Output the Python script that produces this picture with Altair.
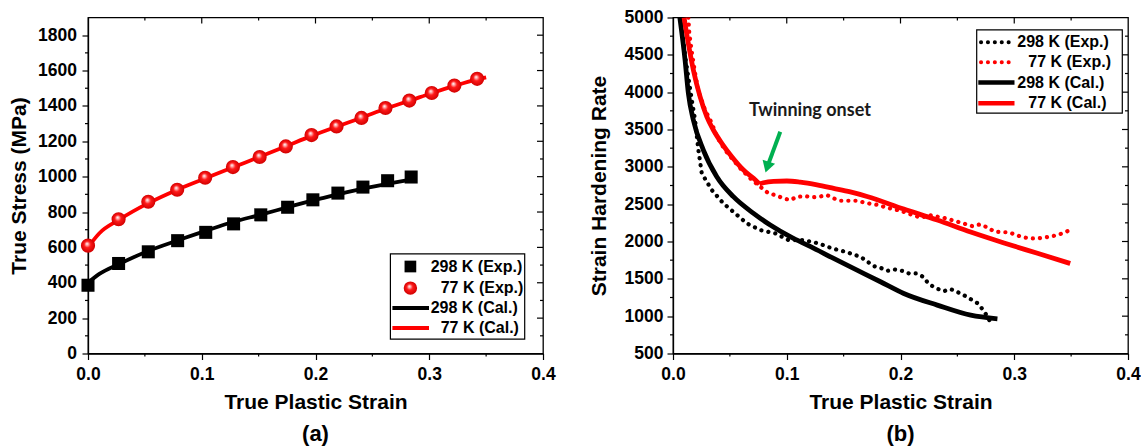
import altair as alt
import pandas as pd

FONT = "Liberation Sans"
W, H = 455, 336

# ---------------- Panel (a): true stress vs true plastic strain ----------------
a_exp298_strain = [0.0, 0.0269, 0.053, 0.0788, 0.1035, 0.128, 0.1519, 0.1755, 0.1977, 0.2197, 0.2417, 0.2634, 0.2841]
a_exp298_stress = [386, 509, 575, 638, 685, 733, 784, 827, 869, 907, 941, 977, 998]
a_exp77_strain = [0.0, 0.0269, 0.053, 0.0784, 0.103, 0.1274, 0.1509, 0.1739, 0.1965, 0.2185, 0.2404, 0.2615, 0.2825, 0.3022, 0.3221, 0.3421]
a_exp77_stress = [610, 759, 858, 926, 994, 1054, 1111, 1171, 1235, 1284, 1332, 1388, 1430, 1473, 1515, 1553]
a_cal298_strain = [0.0, 0.01, 0.027, 0.053, 0.079, 0.104, 0.128, 0.152, 0.176, 0.198, 0.22, 0.242, 0.264, 0.285]
a_cal298_stress = [400, 450, 505, 580, 640, 695, 745, 785, 828, 866, 900, 932, 960, 985]
a_cal77_strain = [0.0, 0.01, 0.027, 0.053, 0.078, 0.103, 0.127, 0.151, 0.174, 0.197, 0.219, 0.24, 0.262, 0.283, 0.302, 0.322, 0.342, 0.35]
a_cal77_stress = [600, 680, 755, 850, 925, 990, 1052, 1112, 1172, 1232, 1284, 1332, 1385, 1430, 1472, 1513, 1550, 1562]

# ---------------- Panel (b): strain hardening rate ----------------
b_exp298_strain = [0.0065, 0.0110, 0.0165, 0.0194, 0.0223, 0.0253, 0.0341, 0.0443, 0.0546, 0.0649, 0.0767, 0.0899, 0.1016,
                   0.1148, 0.128, 0.1398, 0.1515, 0.1648, 0.1765, 0.1824, 0.1883, 0.1947, 0.2015, 0.2074, 0.2138, 0.2200,
                   0.2250, 0.2317, 0.2382, 0.2441, 0.2508, 0.2573, 0.2631, 0.2681, 0.2728, 0.2769, 0.2802]
b_exp298_rate = [5000, 4450, 3895, 3627, 3225, 2913, 2689, 2511, 2377, 2243, 2153, 2109, 2019,
                 2019, 1975, 1908, 1863, 1796, 1670, 1648, 1607, 1626, 1607, 1572, 1572, 1527,
                 1429, 1371, 1335, 1362, 1318, 1268, 1215, 1170, 1080, 983, 879]
b_exp77_strain = [0.0135, 0.0143, 0.0167, 0.0194, 0.0224, 0.0282, 0.0341, 0.0385, 0.0458, 0.0517, 0.0605, 0.0679, 0.0767,
                  0.084, 0.0899, 0.0972, 0.1031, 0.109, 0.1163, 0.1222, 0.1281, 0.1354, 0.1412, 0.1471, 0.1545, 0.1618,
                  0.1677, 0.1751, 0.181, 0.1868, 0.2, 0.2123, 0.2185, 0.225, 0.2376, 0.2505, 0.2631, 0.2699, 0.2764,
                  0.2828, 0.2954, 0.3019, 0.3081, 0.3145, 0.3210, 0.3274, 0.3339, 0.3404, 0.3468]
b_exp77_rate = [5000, 4790, 4521, 4253, 4007, 3761, 3583, 3404, 3225, 3114, 2957, 2846, 2733,
                2645, 2622, 2578, 2555, 2599, 2608, 2591, 2599, 2622, 2578, 2546, 2546, 2546,
                2524, 2501, 2488, 2457, 2412, 2345, 2318, 2354, 2318, 2264, 2206, 2229, 2189,
                2130, 2122, 2086, 2055, 2041, 2041, 2055, 2072, 2099, 2139]
b_cal298_strain = [0.0060, 0.0106, 0.0135, 0.0179, 0.0267, 0.0385, 0.0531, 0.0708, 0.0855, 0.103, 0.121, 0.1412,
                   0.1618, 0.1824, 0.2029, 0.2323, 0.2617, 0.2852]
b_cal298_rate = [5000, 4432, 3985, 3627, 3225, 2868, 2600, 2377, 2220, 2064, 1930, 1773,
                 1617, 1461, 1304, 1148, 1013, 965]
b_cal77_strain = [0.0097, 0.0135, 0.0179, 0.0238, 0.0297, 0.0355, 0.0429, 0.0517, 0.062, 0.0708, 0.0760]
b_cal77_rate = [5000, 4650, 4298, 3940, 3672, 3493, 3315, 3135, 2957, 2846, 2769]
b_cal77b_strain = [0.0760, 0.0796, 0.0884, 0.1001, 0.1119, 0.1266, 0.1412, 0.1559, 0.1706, 0.2029, 0.2323, 0.2617, 0.291, 0.3204, 0.3492]
b_cal77b_rate = [2769, 2787, 2806, 2810, 2794, 2758, 2712, 2664, 2603, 2434, 2287, 2126, 1980, 1842, 1706]

legend_labels = ["298 K (Exp.)", "77 K (Exp.)", "298 K (Cal.)", "77 K (Cal.)"]
annot_text = "Twinning onset"
annot_pos = [0.1204, 3680]
arrow_start = [0.0943, 3470]
arrow_head = [0.0828, 2996]

x_major = [0.0, 0.1, 0.2, 0.3, 0.4]
x_minor = [0.05, 0.15, 0.25, 0.35]
ya_major = list(range(0, 1801, 200))
ya_minor = list(range(100, 1800, 200))
yb_major = list(range(500, 5001, 500))
yb_minor = list(range(750, 5000, 500))

RED = "#ff0000"
BLACK = "#000000"
GREEN = "#00b050"

red_ball = {
    "gradient": "radial", "x1": 0.42, "y1": 0.36, "r1": 0.0, "x2": 0.5, "y2": 0.5, "r2": 0.5,
    "stops": [
        {"offset": 0.0, "color": "#ffffff"},
        {"offset": 0.18, "color": "#ffb0b0"},
        {"offset": 0.45, "color": "#ff1a1a"},
        {"offset": 1.0, "color": "#d00000"},
    ],
}

AX = dict(labelOverlap=False, labelFont=FONT, labelFontSize=17.5, labelFontWeight="bold", labelColor=BLACK,
          titleFont=FONT, titleFontSize=21, titleFontWeight="bold", titleColor=BLACK, grid=False,
          domainColor=BLACK, domainWidth=1.3, tickColor=BLACK, tickWidth=1.2, tickSize=6)


def X(domain, axis=None):
    kw = {"scale": alt.Scale(domain=domain, nice=False, zero=False)}
    if axis is not None:
        kw["axis"] = axis
    return alt.X("x:Q", **kw)


def Y(domain, axis=None):
    kw = {"scale": alt.Scale(domain=domain, nice=False, zero=False)}
    if axis is not None:
        kw["axis"] = axis
    return alt.Y("y:Q", **kw)


def df(xs, ys):
    return pd.DataFrame({"x": xs, "y": ys})


def frame_ticks(xd, yd, xa, ya, xmaj_in, xmin_in, ymaj_in, ymin_in):
    layers = []
    layers.append(alt.Chart(pd.DataFrame({"x": xmin_in})).mark_rule(color=BLACK, strokeWidth=1.2)
                  .encode(x=X(xd, xa), y=alt.value(H), y2=alt.value(H + 3)))
    layers.append(alt.Chart(pd.DataFrame({"x": xmaj_in})).mark_rule(color=BLACK, strokeWidth=1.2)
                  .encode(x=X(xd, xa), y=alt.value(0), y2=alt.value(6)))
    layers.append(alt.Chart(pd.DataFrame({"x": xmin_in})).mark_rule(color=BLACK, strokeWidth=1.2)
                  .encode(x=X(xd, xa), y=alt.value(0), y2=alt.value(3)))
    layers.append(alt.Chart(pd.DataFrame({"y": ymin_in})).mark_rule(color=BLACK, strokeWidth=1.2)
                  .encode(y=Y(yd, ya), x=alt.value(0), x2=alt.value(-3)))
    layers.append(alt.Chart(pd.DataFrame({"y": ymaj_in})).mark_rule(color=BLACK, strokeWidth=1.2)
                  .encode(y=Y(yd, ya), x=alt.value(W), x2=alt.value(W - 6)))
    layers.append(alt.Chart(pd.DataFrame({"y": ymin_in})).mark_rule(color=BLACK, strokeWidth=1.2)
                  .encode(y=Y(yd, ya), x=alt.value(W), x2=alt.value(W - 3)))
    return layers


one = pd.DataFrame({"k": [0]})
TXT = dict(font=FONT, fontSize=16, fontWeight="bold", color=BLACK, align="left", baseline="middle")

# ---------------- build panel (a) ----------------
xd = [0, 0.4]
yda = [0, 1900]
xa_axis = alt.Axis(title="True Plastic Strain", values=x_major, format=".1f", labelFlush=False,
                   labelPadding=6, titlePadding=8, **AX)
ya_axis = alt.Axis(title="True Stress (MPa)", values=ya_major, format="d", labelPadding=5.5, titlePadding=8, **AX)

a_layers = [
    alt.Chart(df(a_cal298_strain, a_cal298_stress)).mark_line(color=BLACK, strokeWidth=3.8, interpolate="monotone")
    .encode(x=X(xd, xa_axis), y=Y(yda, ya_axis)),
    alt.Chart(df(a_cal77_strain, a_cal77_stress)).mark_line(color=RED, strokeWidth=3.8, interpolate="monotone")
    .encode(x=X(xd, xa_axis), y=Y(yda, ya_axis)),
    alt.Chart(df(a_exp298_strain, a_exp298_stress)).mark_point(shape="square", filled=True, color=BLACK, size=170, opacity=1)
    .encode(x=X(xd, xa_axis), y=Y(yda, ya_axis)),
    alt.Chart(df(a_exp77_strain, a_exp77_stress)).mark_point(shape="circle", filled=True, fill=red_ball, size=200, opacity=1, strokeWidth=0)
    .encode(x=X(xd, xa_axis), y=Y(yda, ya_axis)),
]
a_layers += frame_ticks(xd, yda, xa_axis, ya_axis, [0.1, 0.2, 0.3], x_minor, ya_major[1:], ya_minor)

lx0, lx1, ly0, ly1 = 302.4, 436.7, 236.3, 321.6
rows_a = [249, 270.6, 290.6, 310.6]
a_layers += [
    alt.Chart(one).mark_rect(fill="white", stroke=BLACK, strokeWidth=1.2)
    .encode(x=alt.value(lx0), x2=alt.value(lx1), y=alt.value(ly0), y2=alt.value(ly1)),
    alt.Chart(one).mark_point(shape="square", filled=True, color=BLACK, size=137, opacity=1)
    .encode(x=alt.value(322.4), y=alt.value(rows_a[0])),
    alt.Chart(one).mark_point(shape="circle", filled=True, fill=red_ball, size=180, opacity=1, strokeWidth=0)
    .encode(x=alt.value(322.4), y=alt.value(rows_a[1])),
    alt.Chart(one).mark_rule(color=BLACK, strokeWidth=4)
    .encode(x=alt.value(304.4), x2=alt.value(341), y=alt.value(rows_a[2])),
    alt.Chart(one).mark_rule(color=RED, strokeWidth=4)
    .encode(x=alt.value(304.4), x2=alt.value(341), y=alt.value(rows_a[3])),
]
for lbl, ry, tx in zip(legend_labels, rows_a, [342.7, 352.7, 342.7, 352.7]):
    a_layers.append(alt.Chart(one).mark_text(**TXT).encode(x=alt.value(tx), y=alt.value(ry), text=alt.value(lbl)))

panel_a = alt.layer(*a_layers).properties(
    width=W, height=H,
    title=alt.Title("(a)", orient="bottom", anchor="middle", frame="group", offset=12,
                    font=FONT, fontSize=22, fontWeight="bold", color=BLACK),
)

# ---------------- build panel (b) ----------------
ydb = [500, 5000]
xb_axis = alt.Axis(title="True Plastic Strain", values=x_major, format=".1f", labelFlush=False,
                   labelPadding=6, titlePadding=8, **AX)
yb_axis = alt.Axis(title="Strain Hardening Rate", values=yb_major, format="d", labelPadding=4, titlePadding=15, **AX)

DOT = dict(strokeDash=[0.1, 7], strokeCap="round", strokeWidth=4.2, clip=True)
b_layers = [
    alt.Chart(df(b_exp298_strain, b_exp298_rate)).mark_line(color=BLACK, **DOT)
    .encode(x=X(xd, xb_axis), y=Y(ydb, yb_axis)),
    alt.Chart(df(b_exp77_strain, b_exp77_rate)).mark_line(color=RED, **DOT)
    .encode(x=X(xd, xb_axis), y=Y(ydb, yb_axis)),
    alt.Chart(df(b_cal298_strain, b_cal298_rate)).mark_line(color=BLACK, strokeWidth=4.8, clip=True, interpolate="monotone")
    .encode(x=X(xd, xb_axis), y=Y(ydb, yb_axis)),
    alt.Chart(df(b_cal77_strain, b_cal77_rate)).mark_line(color=RED, strokeWidth=4.8, clip=True, interpolate="monotone")
    .encode(x=X(xd, xb_axis), y=Y(ydb, yb_axis)),
    alt.Chart(df(b_cal77b_strain, b_cal77b_rate)).mark_line(color=RED, strokeWidth=4.8, clip=True, interpolate="monotone")
    .encode(x=X(xd, xb_axis), y=Y(ydb, yb_axis)),
    alt.Chart(pd.DataFrame({"x": [annot_pos[0]], "y": [annot_pos[1]], "t": [annot_text]}))
    .mark_text(font="Lato", fontSize=18, fontWeight="bold", color="#1a1a1a", align="center", baseline="alphabetic")
    .encode(x=X(xd, xb_axis), y=Y(ydb, yb_axis), text="t:N"),
    alt.Chart(pd.DataFrame({"x": [arrow_start[0], arrow_head[0]], "y": [arrow_start[1], arrow_head[1]]}))
    .mark_line(color=GREEN, strokeWidth=4)
    .encode(x=X(xd, xb_axis), y=Y(ydb, yb_axis)),
    alt.Chart(pd.DataFrame({"x": [arrow_head[0]], "y": [arrow_head[1]]}))
    .mark_point(shape="triangle-down", filled=True, color=GREEN, size=170, opacity=1, angle=17)
    .encode(x=X(xd, xb_axis), y=Y(ydb, yb_axis)),
]
b_layers += frame_ticks(xd, ydb, xb_axis, yb_axis, [0.1, 0.2, 0.3], x_minor, yb_major[1:-1], yb_minor)

bx0, bx1, by0, by1 = 303.7, 449.3, 12.4, 95.7
rows_b = [24.7, 44.7, 65.1, 85.7]
b_layers += [
    alt.Chart(one).mark_rect(fill="white", stroke=BLACK, strokeWidth=1.2)
    .encode(x=alt.value(bx0), x2=alt.value(bx1), y=alt.value(by0), y2=alt.value(by1)),
    alt.Chart(one).mark_rule(color=BLACK, strokeDash=[0.1, 6.8], strokeCap="round", strokeWidth=4)
    .encode(x=alt.value(308), x2=alt.value(339), y=alt.value(rows_b[0])),
    alt.Chart(one).mark_rule(color=RED, strokeDash=[0.1, 6.8], strokeCap="round", strokeWidth=4)
    .encode(x=alt.value(308), x2=alt.value(339), y=alt.value(rows_b[1])),
    alt.Chart(one).mark_rule(color=BLACK, strokeWidth=4.5)
    .encode(x=alt.value(305.3), x2=alt.value(341.5), y=alt.value(rows_b[2])),
    alt.Chart(one).mark_rule(color=RED, strokeWidth=4.5)
    .encode(x=alt.value(305.3), x2=alt.value(341.5), y=alt.value(rows_b[3])),
]
for lbl, ry, tx in zip(legend_labels, rows_b, [344.3, 355.3, 344.3, 355.3]):
    b_layers.append(alt.Chart(one).mark_text(**TXT).encode(x=alt.value(tx), y=alt.value(ry), text=alt.value(lbl)))

panel_b = alt.layer(*b_layers).properties(
    width=W, height=H,
    title=alt.Title("(b)", orient="bottom", anchor="middle", frame="group", offset=12,
                    font=FONT, fontSize=22, fontWeight="bold", color=BLACK),
)

chart = (
    alt.hconcat(panel_a, panel_b, spacing=130, bounds="flush")
    .properties(padding={"left": 7, "top": 7.5, "right": 0, "bottom": 0}, background="white")
    .configure_view(stroke=BLACK, strokeWidth=1.3)
    .configure_axis(labelOverlap=False)
)

chart.save("out.html", embed_options={"renderer": "svg", "actions": False})
